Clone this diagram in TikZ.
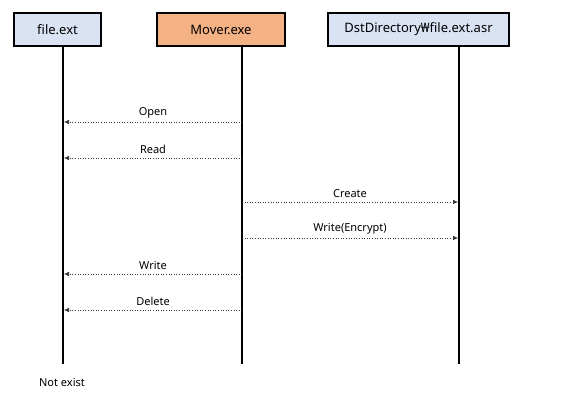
\documentclass[tikz,border=0pt]{standalone}
\usepackage{fontspec}
\setmainfont{Noto Sans}
\usetikzlibrary{arrows.meta}

\definecolor{lblue}{HTML}{DAE3F3}
\definecolor{lorange}{HTML}{F4B183}

\begin{document}
\begin{tikzpicture}[x=1pt,y=-1pt,>={Latex[length=5pt,width=4.5pt]},
    box/.style={draw,line width=1.4pt,minimum height=33pt,inner sep=0pt,font=\fontsize{13}{15}\selectfont},
    life/.style={line width=1.8pt},
    msg/.style={->,dotted,line width=0.6pt,draw=black!80},
    lbl/.style={font=\fontsize{11}{13}\selectfont,above=0.5pt}]
                \useasboundingbox (0,0) rectangle (573,400);
                \node[box,fill=lblue,minimum width=87pt] (file) at (57.5,29.5) {file.ext};
                \node[box,fill=lorange,minimum width=128pt] (mover) at (221,29.5) {Mover.exe};
                \node[box,fill=lblue,minimum width=181pt] (dst) at (418.5,29.5) {DstDirectory₩file.ext.asr};

                % lifelines
                \coordinate (fileTop) at (63,46);   \coordinate (fileEnd) at (63,364);
                \coordinate (moverTop) at (242,46); \coordinate (moverEnd) at (242,364);
                \coordinate (dstTop) at (459,46);   \coordinate (dstEnd) at (459,364);
                \draw[life] (fileTop) -- (fileEnd);
                \draw[life] (moverTop) -- (moverEnd);
                \draw[life] (dstTop) -- (dstEnd);

                % messages
                \coordinate (m1) at (242,122); \coordinate (f1) at (64,122);
                \coordinate (m2) at (242,158); \coordinate (f2) at (64,158);
                \coordinate (m3) at (242,202); \coordinate (d3) at (458,202);
                \coordinate (m4) at (242,238); \coordinate (d4) at (458,238);
                \coordinate (m5) at (242,274); \coordinate (f5) at (64,274);
                \coordinate (m6) at (242,310); \coordinate (f6) at (64,310);

                \path[every node/.style={lbl}]
                    (m1) edge[msg] node {Open} (f1)
                    (m2) edge[msg] node {Read} (f2)
                    (m3) edge[msg] node {Create} (d3)
                    (m4) edge[msg] node {Write(Encrypt)} (d4)
                    (m5) edge[msg] node {Write} (f5)
                    (m6) edge[msg] node {Delete} (f6)
                    ;

                \node[font=\fontsize{11}{13}\selectfont] (gone) at (62,382) {Not exist};
            \end{tikzpicture}
\end{document}
